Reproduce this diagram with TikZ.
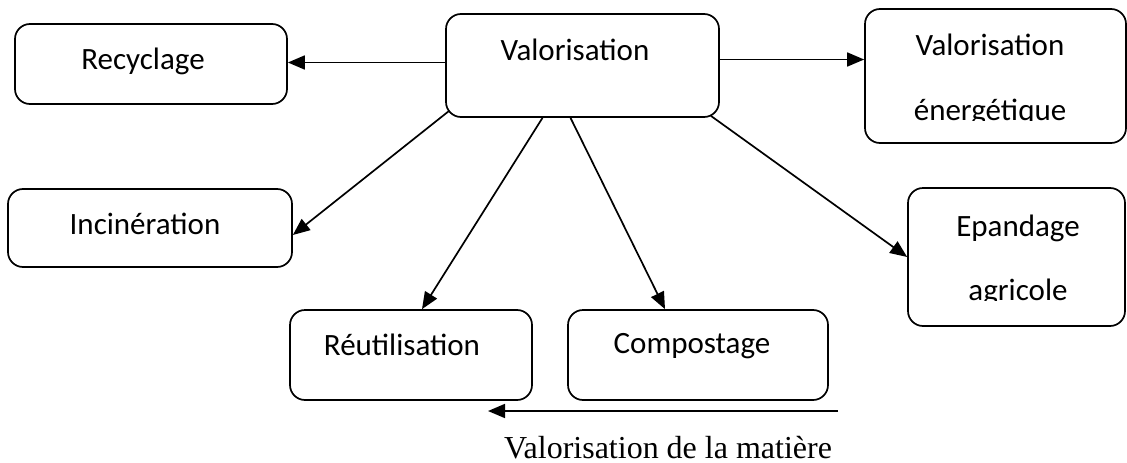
\documentclass[tikz,border=0pt]{standalone}
\usepackage{fontspec}
\setmainfont{Carlito}
\newfontfamily\timesfont{Liberation Serif}
\usetikzlibrary{arrows.meta, positioning}

\tikzset{
  etape/.style={draw, rounded corners=15pt, line width=1.7pt, inner sep=0pt},
  mot/.style={anchor=base, inner sep=0pt, font=\fontsize{31pt}{37pt}\selectfont},
  fleche/.style={line width=1.7pt, -{Triangle[length=17pt,width=14pt]}}
}

\begin{document}
\begin{tikzpicture}[x=1pt, y=-1pt]
\useasboundingbox (0,0) rectangle (1127,463);
% les cases
\node[etape, minimum width=272pt, minimum height=80pt]  (recy) at (151,64) {};
\node[etape, minimum width=273pt, minimum height=103pt] (valo) at (582.5,65.5) {};
\node[etape, minimum width=261pt, minimum height=134pt] (ener) at (995.5,76) {};
\node[etape, minimum width=284pt, minimum height=78pt]  (inci) at (150,228) {};
\node[etape, minimum width=217pt, minimum height=138pt] (epan) at (1016.5,257) {};
\node[etape, minimum width=242pt, minimum height=90pt]  (reut) at (411,355) {};
\node[etape, minimum width=260pt, minimum height=90pt]  (comp) at (698,355) {};
% les textes
\node[mot] (recyT) at (143,69)  {Recyclage};
\node[mot] (valoT) at (575,60)  {Valorisation};
\node[mot] (inciT) at (145,234) {Incinération};
\node[mot] (reutT) at (402,355) {Réutilisation};
\node[mot] (compT) at (692,353) {Compostage};
\node[mot] (enerT) at (990,55)  {Valorisation};
\node[mot] (epanT) at (1018,236) {Epandage};
\begin{scope}
\clip (ener.north west) rectangle ([yshift=23pt]ener.south east);
\node[mot] (enerU) at (990,120) {énergétique};
\end{scope}
\begin{scope}
\clip (epan.north west) rectangle ([yshift=26pt]epan.south east);
\node[mot] (epanU) at (1018,300) {agricole};
\end{scope}
% les fleches
\path[fleche]
    ([yshift=3pt]valo.west)                 edge ([yshift=3pt]valo.west -| recy.east)
    ([yshift=6pt]valo.east)                 edge ([yshift=6pt]valo.east -| ener.west)
    ([xshift=4pt,yshift=7pt]valo.south west) edge ([yshift=-7pt]inci.east)
    ([xshift=-40pt]valo.south)              edge ([xshift=11pt]reut.north)
    ([xshift=-12pt]valo.south)              edge ([xshift=-33pt]comp.north)
    ([xshift=-9pt,yshift=2pt]valo.south east) edge (epan.west);
\coordinate (m1) at (838,411);
\coordinate (m2) at (488,411);
\draw[fleche] (m1) -- (m2);
\node[anchor=base, inner sep=0pt, font=\timesfont\fontsize{32pt}{38pt}\selectfont] (legende) at (668,458) {Valorisation de la matière};
\end{tikzpicture}
\end{document}
